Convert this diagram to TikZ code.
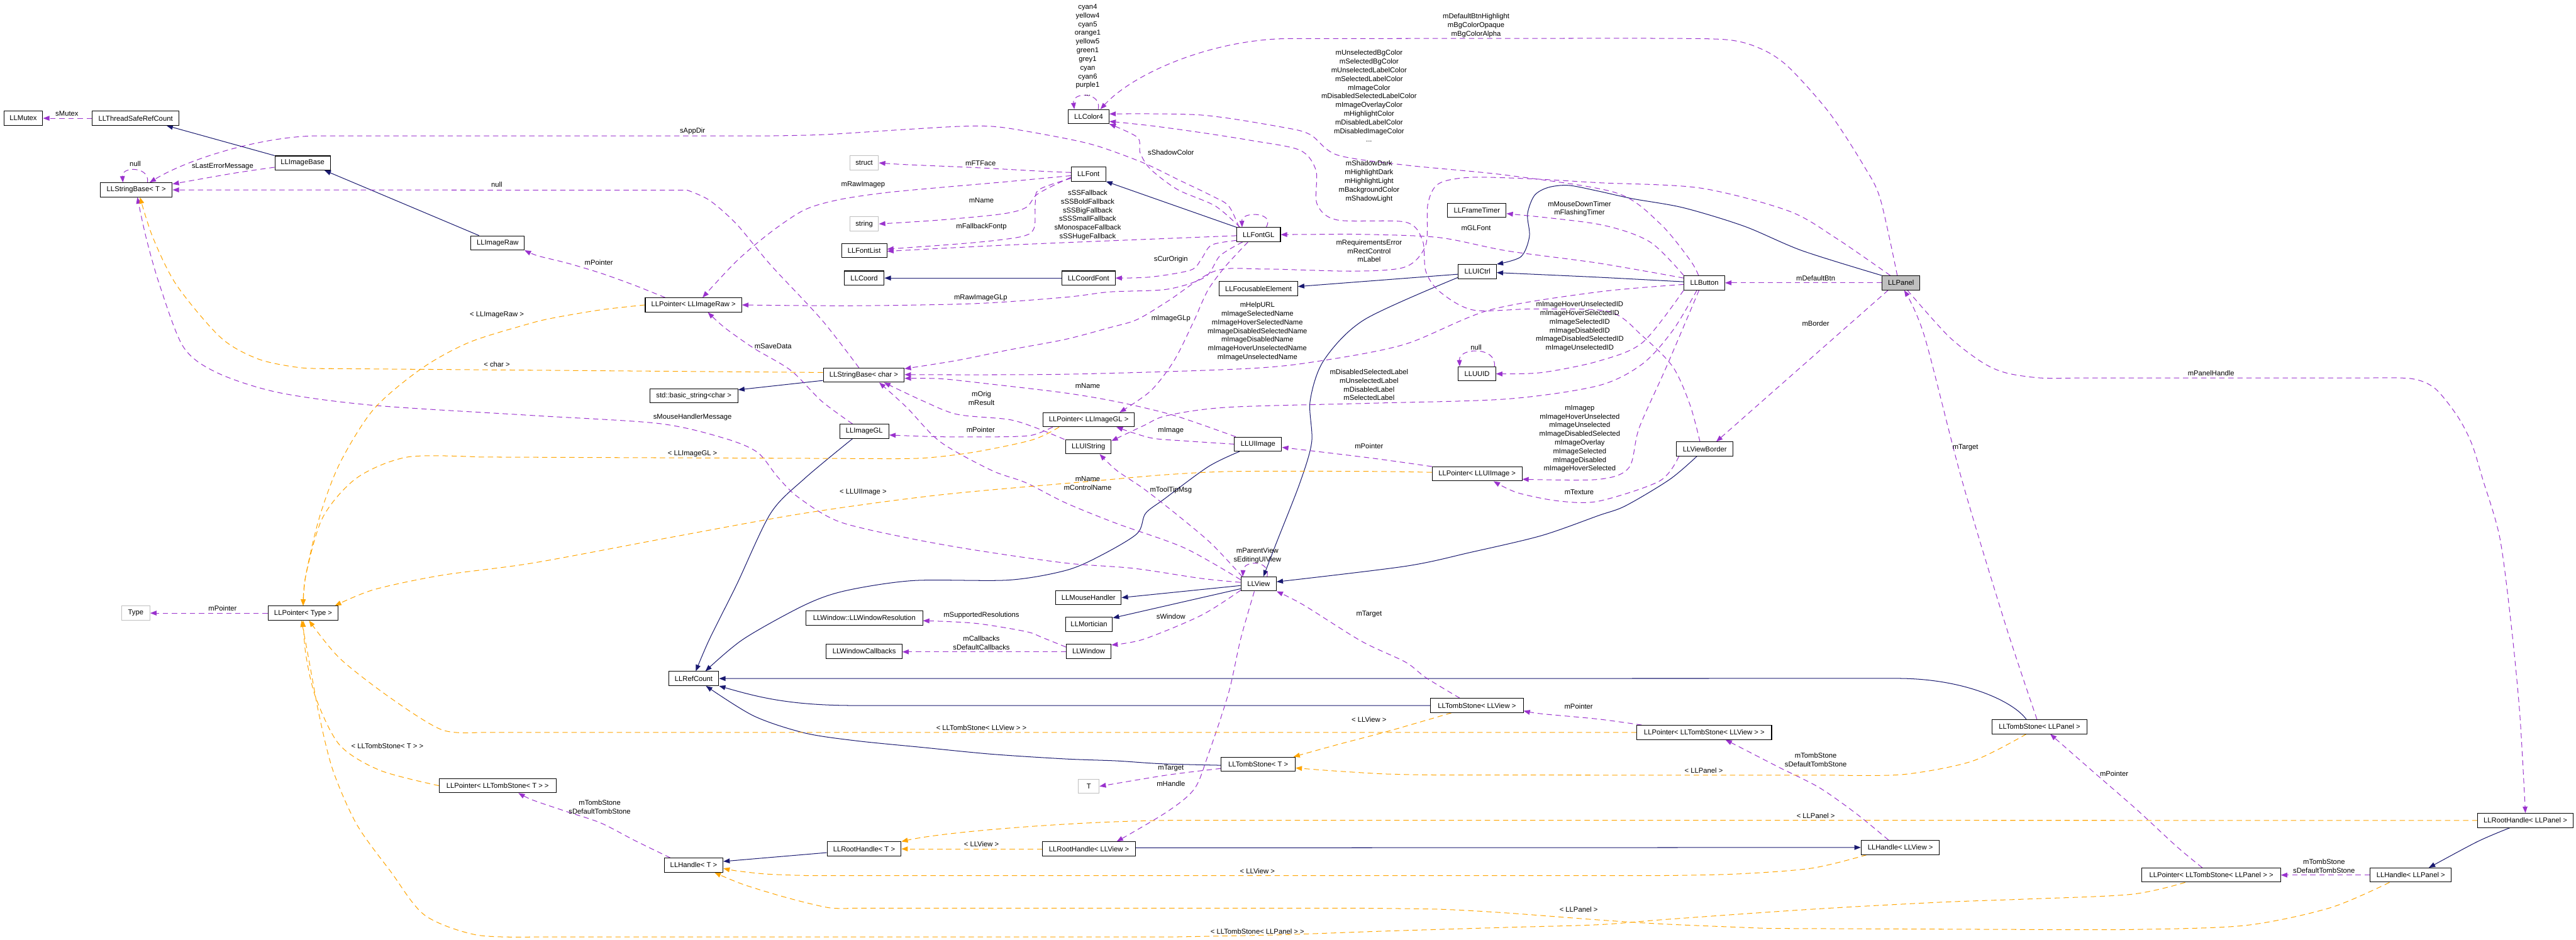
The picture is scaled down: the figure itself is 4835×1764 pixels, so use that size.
\documentclass[tikz,border=0pt]{standalone}
\usepackage{fontspec}
\setmainfont{Liberation Sans}
\usetikzlibrary{arrows.meta,calc,backgrounds}
\definecolor{navy}{HTML}{191970}
\definecolor{purp}{HTML}{9A32CD}
\definecolor{orng}{HTML}{FFA500}
\definecolor{gbord}{HTML}{BFBFBF}
\definecolor{pfill}{HTML}{BFBFBF}
\newcommand{\dfont}{\fontsize{13.3}{16.3}\selectfont}
\begin{document}
\begin{tikzpicture}[x=1pt,y=-1pt,
  cls/.style={draw=black, fill=white, line width=1.2pt, minimum height=26.5pt, inner sep=0pt, font=\dfont},
  gcls/.style={cls, draw=gbord},
  lab/.style={font=\dfont, align=center, inner sep=0pt},
  arr/.style={-{Triangle[length=12pt,width=9pt]}},
  inh/.style={draw=navy, line width=1.2pt, arr},
  usage/.style={draw=purp, line width=1.2pt, dash pattern=on 10pt off 7pt, arr},
  tmpl/.style={draw=orng, line width=1.2pt, dash pattern=on 10pt off 7pt, arr},
  sm/.style={smooth, tension=0.5}]
\useasboundingbox (0,0) rectangle (4835,1764);

% ---------------- nodes ----------------
\node[cls, minimum width=73pt] (mutex) at (43.7,222) {LLMutex};
\node[cls, minimum width=163pt] (tsrc) at (254.5,222) {LLThreadSafeRefCount};
\node[cls, minimum width=104pt] (imgbase) at (568,306) {LLImageBase};
\node[cls, minimum width=135pt] (sbT) at (255.8,356.5) {LLStringBase< T >};
\node[cls, minimum width=100pt] (imgraw) at (934,456) {LLImageRaw};
\node[cls, minimum width=181pt] (pImgRaw) at (1301.6,572.5) {LLPointer< LLImageRaw >};
\node[cls, minimum width=165pt] (stdstr) at (1302.3,742.8) {std::basic\_string<char >};
\node[cls, minimum width=152pt] (sbChar) at (1621.2,704.3) {LLStringBase< char >};
\node[cls, minimum width=92.5pt] (imggl) at (1622.2,809.7) {LLImageGL};
\node[gcls, minimum width=54pt] (structn) at (1622,305.8) {struct};
\node[gcls, minimum width=54pt] (stringn) at (1622,420.4) {string};
\node[cls, minimum width=85pt] (fontlist) at (1622,470.7) {LLFontList};
\node[cls, minimum width=75pt] (coord) at (1622,522) {LLCoord};
\node[cls, minimum width=219pt] (winres) at (1622.2,1160.3) {LLWindow::LLWindowResolution};
\node[cls, minimum width=142pt] (wincb) at (1622,1222.8) {LLWindowCallbacks};
\node[cls, minimum width=139pt] (rhT) at (1621.8,1593.7) {LLRootHandle< T >};
\node[cls, minimum width=94pt] (refcount) at (1302,1273.9) {LLRefCount};
\node[cls, minimum width=110pt] (hT) at (1302,1624.2) {LLHandle< T >};
\node[cls, minimum width=219pt] (pTST) at (934,1475) {LLPointer< LLTombStone< T > >};
\node[gcls, minimum width=53pt] (type) at (254.8,1151) {Type};
\node[cls, minimum width=132pt] (pType) at (569,1151) {LLPointer< Type >};
\node[cls, minimum width=76.5pt] (color4) at (2043.4,218.9) {LLColor4};
\node[cls, minimum width=64.5pt] (font) at (2043,326.8) {LLFont};
\node[cls, minimum width=100pt] (coordfont) at (2043,522) {LLCoordFont};
\node[cls, minimum width=172pt] (pImgGL) at (2043.4,788) {LLPointer< LLImageGL >};
\node[cls, minimum width=85pt] (uistring) at (2043,838.8) {LLUIString};
\node[cls, minimum width=123pt] (mouse) at (2043,1122) {LLMouseHandler};
\node[cls, minimum width=88pt] (mort) at (2044,1172) {LLMortician};
\node[cls, minimum width=84pt] (window) at (2043.4,1222.8) {LLWindow};
\node[gcls, minimum width=39pt] (tn) at (2043.6,1476.2) {T};
\node[cls, minimum width=175pt] (rhView) at (2044,1593.7) {LLRootHandle< LLView >};
\node[cls, minimum width=82pt] (fontgl) at (2362.3,440.5) {LLFontGL};
\node[cls, minimum width=147pt] (focus) at (2362,541.9) {LLFocusableElement};
\node[cls, minimum width=88.6pt] (uiimage) at (2361.3,833.8) {LLUIImage};
\node[cls, minimum width=66.3pt] (view) at (2362.3,1096.3) {LLView};
\node[cls, minimum width=139pt] (tsT) at (2361.6,1434.7) {LLTombStone< T >};
\node[cls, minimum width=110pt] (frametimer) at (2772,395) {LLFrameTimer};
\node[cls, minimum width=71.4pt] (uictrl) at (2773,509.8) {LLUICtrl};
\node[cls, minimum width=70pt] (uuid) at (2772.3,701.8) {LLUUID};
\node[cls, minimum width=168.4pt] (pUIImage) at (2772.4,889.7) {LLPointer< LLUIImage >};
\node[cls, minimum width=174pt] (tsView) at (2772,1324.5) {LLTombStone< LLView >};
\node[cls, minimum width=76.5pt] (button) at (3199,531) {LLButton};
\node[cls, minimum width=106pt] (vborder) at (3199.7,843) {LLViewBorder};
\node[cls, minimum width=253pt] (pTSView) at (3198.7,1375) {LLPointer< LLTombStone< LLView > >};
\node[cls, minimum width=147pt] (hView) at (3566.7,1591) {LLHandle< LLView >};
\node[cls, minimum width=71pt, fill=pfill] (panel) at (3568,531) {LLPanel};
\node[cls, minimum width=178pt] (tsPanel) at (3828.2,1364.3) {LLTombStone< LLPanel >};
\node[cls, minimum width=260pt] (pTSPanel) at (4150.4,1642.8) {LLPointer< LLTombStone< LLPanel > >};
\node[cls, minimum width=152pt] (hPanel) at (4524.8,1642.8) {LLHandle< LLPanel >};
\node[cls, minimum width=179pt] (rhPanel) at (4740,1540.2) {LLRootHandle< LLPanel >};

% ---------------- labels ----------------
\node[lab] (l1) at (125.6,213) {sMutex};
\node[lab] (l2) at (253.8,308) {null};
\node[lab] (l3) at (417.8,312.5) {sLastErrorMessage};
\node[lab] (l4) at (932.5,347) {null};
\node[lab] (l5) at (1299.8,246.8) {sAppDir};
\node[lab] (l6) at (1840.6,306.2) {mFTFace};
\node[lab] (l7) at (1620,347) {mRawImagep};
\node[lab] (l8) at (1842,375.8) {mName};
\node[lab] (l9) at (1842,426) {mFallbackFontp};
\node[lab] (l10) at (2041.5,403.8) {sSSFallback\\sSSBoldFallback\\sSSBigFallback\\sSSSmallFallback\\sMonospaceFallback\\sSSHugeFallback};
\node[lab] (l11) at (2197.7,486.8) {sCurOrigin};
\node[lab] (l12) at (1840.6,558.7) {mRawImageGLp};
\node[lab] (l13) at (2197.7,598) {mImageGLp};
\node[lab] (l14) at (2197.7,286.3) {sShadowColor};
\node[lab] (l15) at (2041.5,94.1) {cyan4\\yellow4\\cyan5\\orange1\\yellow5\\green1\\grey1\\cyan\\cyan6\\purple1\\...};
\node[lab] (l16) at (2770.5,47.8) {mDefaultBtnHighlight\\mBgColorOpaque\\mBgColorAlpha};
\node[lab] (l17) at (2569.6,180.3) {mUnselectedBgColor\\mSelectedBgColor\\mUnselectedLabelColor\\mSelectedLabelColor\\mImageColor\\mDisabledSelectedLabelColor\\mImageOverlayColor\\mHighlightColor\\mDisabledLabelColor\\mDisabledImageColor\\...};
\node[lab] (l18) at (2569.6,340.6) {mShadowDark\\mHighlightDark\\mHighlightLight\\mBackgroundColor\\mShadowLight};
\node[lab] (l19) at (2964.6,392) {mMouseDownTimer\\mFlashingTimer};
\node[lab] (l20) at (2360,622.4) {mHelpURL\\mImageSelectedName\\mImageHoverSelectedName\\mImageDisabledSelectedName\\mImageDisabledName\\mImageHoverUnselectedName\\mImageUnselectedName};
\node[lab] (l21) at (2965,613) {mImageHoverUnselectedID\\mImageHoverSelectedID\\mImageSelectedID\\mImageDisabledID\\mImageDisabledSelectedID\\mImageUnselectedID};
\node[lab] (l22) at (2770.5,652) {null};
\node[lab] (l23) at (2569.6,722.6) {mDisabledSelectedLabel\\mUnselectedLabel\\mDisabledLabel\\mSelectedLabel};
\node[lab] (l24) at (2965,823.8) {mImagep\\mImageHoverUnselected\\mImageUnselected\\mImageDisabledSelected\\mImageOverlay\\mImageSelected\\mImageDisabled\\mImageHoverSelected};
\node[lab] (l25) at (3408,522.3) {mDefaultBtn};
\node[lab] (l26) at (3408,607.3) {mBorder};
\node[lab] (l27) at (4150,700) {mPanelHandle};
\node[lab] (l28) at (3689,839.8) {mTarget};
\node[lab] (l29) at (2964,923.3) {mTexture};
\node[lab] (l30) at (2569.6,838) {mPointer};
\node[lab] (l31) at (2197.7,807.8) {mImage};
\node[lab] (l32) at (2041.5,724.8) {mName};
\node[lab] (l33) at (1840.6,806.7) {mPointer};
\node[lab] (l34) at (1451,650.5) {mSaveData};
\node[lab] (l35) at (1842,748) {mOrig\\mResult};
\node[lab] (l36) at (2041.5,907.7) {mName\\mControlName};
\node[lab] (l37) at (1299.8,783.7) {sMouseHandlerMessage};
\node[lab] (l38) at (2197.7,920) {mToolTipMsg};
\node[lab] (l39) at (2360,1042.7) {mParentView\\sEditingUIView};
\node[lab] (l40) at (2197.7,1157) {sWindow};
\node[lab] (l41) at (2569.6,1153) {mTarget};
\node[lab] (l42) at (2197.7,1471.6) {mHandle};
\node[lab] (l43) at (2197.7,1442.8) {mTarget};
\node[lab] (l44) at (1842,1155.7) {mSupportedResolutions};
\node[lab] (l45) at (1842,1207) {mCallbacks\\sDefaultCallbacks};
\node[lab] (l46) at (1124,492.5) {mPointer};
\node[lab] (l47) at (417.8,1142.4) {mPointer};
\node[lab] (l48) at (3408,1426.3) {mTombStone\\sDefaultTombStone};
\node[lab] (l49) at (1125.6,1514.7) {mTombStone\\sDefaultTombStone};
\node[lab] (l50) at (4362,1626.3) {mTombStone\\sDefaultTombStone};
\node[lab] (l51) at (2963,1326.6) {mPointer};
\node[lab] (l52) at (3968,1452.7) {mPointer};
\node[lab] (l53) at (932.5,590.6) {< LLImageRaw >};
\node[lab] (l54) at (932.5,684) {< char >};
\node[lab] (l55) at (1299.8,851.8) {< LLImageGL >};
\node[lab] (l56) at (1620,924.5) {< LLUIImage >};
\node[lab] (l57) at (1842,1366.5) {< LLTombStone< LLView > >};
\node[lab] (l58) at (727,1400) {< LLTombStone< T > >};
\node[lab] (l59) at (2360,1748.5) {< LLTombStone< LLPanel > >};
\node[lab] (l60) at (2963,1707) {< LLPanel >};
\node[lab] (l61) at (2360,1636) {< LLView >};
\node[lab] (l62) at (1842,1585) {< LLView >};
\node[lab] (l63) at (3408,1532) {< LLPanel >};
\node[lab] (l64) at (3197.7,1446.6) {< LLPanel >};
\node[lab] (l65) at (2569.6,1351) {< LLView >};
\node[lab] (l66) at (2569.6,471) {mRequirementsError\\mRectControl\\mLabel};
\node[lab] (l67) at (2770.5,427.5) {mGLFont};

% ---------------- edges ----------------
\begin{scope}[on background layer]
\fill[white] (0,0) rectangle (4835,1764);

% inheritance
\draw[inh] (imgbase.north west) -- ($(tsrc.south east)+(-24,0)$);
\draw[inh] ($(imgraw.north)+(-35,0)$) -- ($(imgbase.south)+(41,0)$);
\draw[inh] ($(sbChar.west)+(0,10)$) -- ($(stdstr.east)+(0,-11)$);
\draw[inh] (fontgl.north west) -- (font.south east);
\draw[inh] (coordfont.west) -- (coord.east);
\draw[inh] ($(uictrl.west)+(0,5)$) -- ($(focus.east)+(0,-4)$);
\draw[inh] plot[sm] coordinates {($(uictrl.west)+(0,11)$) (2561,600) (2484.7,676.5) (2459,753) (2462,829.5) (2440,906) (2395,1021) ($(view.north)+(9,0)$)};
\draw[inh] plot[sm] coordinates {($(button.west)+(0,-2)$) (3000,520.5) ($(uictrl.east)+(0,2)$)};
\draw[inh] plot[sm] coordinates {(panel.north west) (3382.7,470.7) (3274,424.8) (3159.5,390) (3064,373) (3000,358.8) (2944,348) (2905.7,352) (2880,367) (2867,402) (2870.6,444) (2854.6,482) (uictrl.north east)};
\draw[inh] plot[sm] coordinates {($(vborder.south)+(-15,0)$) (3134,900) (3051,949.6) (3000,968) (2893,1005.6) (2760,1037) (2638,1063) ($(view.east)+(0,-4)$)};
\draw[inh] ($(view.west)+(0,3)$) -- (mouse.east);
\draw[inh] ($(view.west)+(0,9)$) -- ($(mort.north east)+(0,2)$);
\draw[inh] plot[sm] coordinates {($(imggl.south)+(-22,0)$) (1510,898.5) (1446.5,963.5) (1382.7,1097.5) (1331.6,1200) ($(refcount.north)+(4,0)$)};
\draw[inh] plot[sm] coordinates {($(uiimage.south west)+(10,0)$) (2268,876) (2185,937) (2150,964) (2134,1002) (2064,1044) (2000,1071) (1893,1089) (1714,1090) (1587,1109) (1510,1136) (1395,1200) ($(refcount.north)+(22,0)$)};
\draw[inh] ($(tsPanel.north)+(-25,0)$) .. controls (3780,1318) and (3690,1273.6) .. (3560,1273.6) -- (refcount.east);
\draw[inh] (tsView.west) -- (1606,1324.5) .. controls (1480,1324.5) and (1420,1308) .. (refcount.south east);
\draw[inh] plot[sm] coordinates {($(tsT.west)+(0,2)$) (2178.6,1433.8) (2095.7,1428.4) (2000,1424.8) (1861,1415.8) (1730,1403) (1606,1390.6) (1510,1376) (1414.6,1344) ($(refcount.south)+(23,0)$)};
\draw[inh] ($(rhT.west)+(0,7)$) -- ($(hT.east)+(0,-7)$);
\draw[inh] ($(rhView.east)+(0,-2)$) -- (hView.west);
\draw[inh] plot[sm] coordinates {($(rhPanel.south)+(-29,0)$) (4650,1580) ($(hPanel.north)+(34,0)$)};

% usage
\draw[usage] (tsrc.west) -- (mutex.east);
\draw[usage] ($(sbT.north)+(21,0)$) .. controls (282,312) and (228,312) .. ($(sbT.north)+(-25,0)$);
\draw[usage] plot[sm] coordinates {($(imgbase.west)+(0,8)$) (440,325) ($(sbT.east)+(0,-11)$)};
\draw[usage] plot[sm] coordinates {($(sbChar.north)+(-9,0)$) (1542,600) (1446.5,497.5) (1382.7,421) (1331.6,376) (1290,357)} -- (sbT.east);
\draw[usage] plot[sm] coordinates {($(fontgl.north west)+(5,0)$) (2306,386.5) (2274,367.4) (2210.5,336.8) (2146.7,306) (2064,275.5) (2000,260) (1880,239) (1810,237) (1700,243) (1548.5,252.6) (1450,255)} -- (600,255) .. controls (490,255) and (350,300) .. ($(sbT.north)+(25,0)$);
\draw[usage] plot[sm] coordinates {($(font.west)+(0,-3)$) (1956.7,321.5) (1829,314.6) (1700,309) (structn.east)};
\draw[usage] plot[sm] coordinates {($(font.west)+(0,3)$) (1880,342) (1765,352) (1660,362) (1574,375) (1510,394) (1446.5,436) (1382.7,490) ($(pImgRaw.north)+(17,0)$)};
\draw[usage] plot[sm] coordinates {($(font.west)+(0,6)$) (1969.5,352) (1944,367) (1925,390) (1880,401.8) (1765,413) (stringn.east)};
\draw[usage] plot[sm] coordinates {($(font.west)+(0,8)$) (1950,356) (1943,383) (1941,428) (1918,444) (1829,455.4) ($(fontlist.east)+(0,-3)$)};
\draw[usage] plot[sm] coordinates {($(fontgl.west)+(0,2)$) (2000,455.4) (1850,462) ($(fontlist.east)+(0,1)$)};
\draw[usage] plot[sm] coordinates {($(fontgl.south west)+(0,-3)$) (2274,460) (2255,486) (2235,507) (2160,520) (coordfont.east)};
\draw[usage] plot[sm] coordinates {($(fontgl.south)+(-30,0)$) (2290,480) (2262,520) (2191,543) (2083,548) (2000,558) (1829,570) (1600,574) (pImgRaw.east)};
\draw[usage] plot[sm] coordinates {($(fontgl.south)+(-20,0)$) (2300,500) (2270,540) (2255,570) (2242,600) (2204,676.5) (2159.5,734) ($(pImgGL.north)+(58,0)$)};
\draw[usage] plot[sm] coordinates {($(fontgl.north)+(-35,0)$) (2280.6,386.5) (2210.5,356) (2159.5,317.6) (2140,287) (2135,258) (color4.south east)};
\draw[usage] ($(fontgl.north)+(14,0)$) .. controls (2395,398) and (2330,396) .. ($(fontgl.north)+(-31,0)$);
\draw[usage] ($(color4.north)+(18,0)$) .. controls (2068,172) and (2012,172) .. ($(color4.north)+(-27,0)$);
\draw[usage] plot[sm] coordinates {($(panel.north)+(-7,0)$) (3529,373) (3497.5,310) (3433.7,212) (3357,126) (3306,92) (3242,74.6) (3100,72) (2950,72)} -- (2420,72.5) .. controls (2280,73) and (2130,135) .. ($(color4.north)+(22,0)$);
\draw[usage] plot[sm] coordinates {($(button.north)+(-11,0)$) (3172,488) (3115,419) (3032,361.6) (2829,329) (2638,310) (2510,291) (2459,252.6) (2408,239) (2255,216) ($(color4.east)+(0,-5)$)};
\draw[usage] plot[sm] coordinates {($(vborder.north)+(-9,0)$) (3172,760) (3140,689) (3083,631) (3020,585) (2880,580) (2765,582) (2701.6,547) (2676,509) (2670,451.6) (2638,417) (2510,413) (2472,383) (2470,320) (2440,282) (2350,264) (2255,249) (2160,236) ($(color4.east)+(0,9)$)};
\draw[usage] plot[sm] coordinates {(button.north west) (3095.7,453.5) (3000,421) ($(frametimer.east)+(0,6)$)};
\draw[usage] plot[sm] coordinates {($(button.west)+(0,-9)$) (3000,494) (2829,471) (2701.6,446) (2560,440) (2470,440) (fontgl.east)};
\draw[usage] plot[sm] coordinates {($(button.west)+(0,3)$) (3000,548) (2797,581.7) (2638,646) (2484.7,676.5) (2344.4,691.8) (2000,702.6) ($(sbChar.east)+(0,-1)$)};
\draw[usage] plot[sm] coordinates {(button.south west) (3083,643) (3000,678) (2893,699.5) (uuid.east)};
\draw[usage] ($(uuid.north east)+(-3,0)$) .. controls (2810,650) and (2738,652) .. ($(uuid.north west)+(3,0)$);
\draw[usage] plot[sm] coordinates {($(button.south)+(-14,0)$) (3140,620) (3083,683) (3000,724) (2829,749) (2574,757) (2306,764.5) (2191,780) (2146.7,799) ($(uistring.east)+(0,-11)$)};
\draw[usage] plot[sm] coordinates {($(button.south)+(-10,0)$) (3127.6,689) (3076.5,803.6) (3057.4,878) (3000,900) ($(pUIImage.east)+(0,10)$)};
\draw[usage] (panel.west) -- (button.east);
\draw[usage] ($(panel.south west)+(12,0)$) -- ($(vborder.north east)+(-32,0)$);
\draw[usage] plot[sm] coordinates {($(panel.south)+(12,0)$) (3657,631) (3720,680) (3765,700) (3829,709.5) (3900,709.5)} -- plot[sm] coordinates {(4450,709.5) (4527,711) (4570,729) (4612,780.6) (4639,832.3) (4660,900) (4692,1010) (4713.6,1175.5) (4729.5,1340.8) (rhPanel.north)};
\draw[usage] plot[sm] coordinates {($(tsPanel.north)+(-5,0)$) (3765,1175.5) (3682,900) (3612,631) ($(panel.south)+(6,0)$)};
\draw[usage] plot[sm] coordinates {($(panel.north west)+(16,0)$) (3446,447) (3357,396) (3191,353) (3000,343) (2880,336) (2760,333) (2700,345) (2680,383) (2676,460) (2638,501) (2542,509) (2370,505) (2280,509) (2191,566) (2134,600) (2083,615) (2000,637) (1893,657) (1797,676.5) ($(sbChar.east)+(0,-12)$)};
\draw[usage] plot[sm] coordinates {($(vborder.south west)+(5,0)$) (3115,903) (3000,941) (2925,940.5) (2848,925) ($(pUIImage.south)+(31,0)$)};
\draw[usage] plot[sm] coordinates {(pUIImage.north west) (2574,860) ($(uiimage.east)+(0,6)$)};
\draw[usage] plot[sm] coordinates {(uiimage.west) (2223,827.7) (2159.5,822) ($(pImgGL.south)+(52,0)$)};
\draw[usage] plot[sm] coordinates {($(uiimage.north west)+(3,0)$) (2204,780) (2100,755) (2000,737.8) (1850,720) (1765,711) ($(sbChar.east)+(0,6)$)};
\draw[usage] plot[sm] coordinates {($(pImgGL.south west)+(19,0)$) (1937,817) (1880,820) (1765,820) ($(imggl.east)+(0,7)$)};
\draw[usage] plot[sm] coordinates {($(imggl.north)+(-22,0)$) (1542,753) (1484.7,695.7) (1414.6,653.6) (1360,615) ($(pImgRaw.south)+(27,0)$)};
\draw[usage] plot[sm] coordinates {($(uistring.north west)+(-2,0)$) (1944,803) (1893,787.5) (1797,778) (1733,753) ($(sbChar.south)+(38,0)$)};
\draw[usage] plot[sm] coordinates {($(view.west)+(0,-8)$) (2223,1028.6) (2095.7,982.7) (2000,944) (1925,906) (1861,883) (1765,829.6) (1701.6,764.6) ($(sbChar.south)+(29,0)$)};
\draw[usage] plot[sm] coordinates {($(view.west)+(0,-3)$) (2255,1086) (2127.6,1067) (2000,1057) (1829,1032.5) (1701.6,1009.5) (1574,979) (1497.5,933) (1459,894.7) (1421,848.7) (1357,822) (1236,795) (1000,780) (701.6,761) (523,737) (408,700) (344.4,651.7) (299.8,535.7) (274.3,446.4) ($(sbT.south)+(2,0)$)};
\draw[usage] plot[sm] coordinates {($(view.north west)+(3,0)$) (2274,1021) (2210.5,967.4) (2146.7,917.6) (2095.7,883) ($(uistring.south)+(21,0)$)};
\draw[usage] ($(view.north)+(16,0)$) .. controls (2385,1050) and (2334,1052) .. ($(view.north west)+(4,0)$);
\draw[usage] plot[sm] coordinates {($(view.south west)+(0,-2)$) (2255,1155) (2146.7,1200) ($(window.east)+(0,-12)$)};
\draw[usage] plot[sm] coordinates {($(tsView.north)+(-32,0)$) (2676,1272) (2638,1243) (2555,1203.6) (2446.5,1135.7) (view.south east)};
\draw[usage] plot[sm] coordinates {($(view.south)+(-8,0)$) (2328.5,1200) (2306,1300.7) (2268,1416) (2242,1480.6) (2191,1523.7) ($(rhView.north)+(52,0)$)};
\draw[usage] plot[sm] coordinates {($(tsT.west)+(0,8)$) (2191,1455) (tn.east)};
\draw[usage] plot[sm] coordinates {($(window.west)+(0,-8)$) (1956.7,1197) (1925,1185.5) (1829,1170) ($(winres.east)+(0,5)$)};
\draw[usage] ($(window.west)+(0,1)$) -- ($(wincb.east)+(0,1)$);
\draw[usage] plot[sm] coordinates {($(pImgRaw.north west)+(38,0)$) (1191.3,535.7) (1127.6,512.8) (1063.8,493.7) (1009.6,480.3) (imgraw.south east)};
\draw[usage] (pType.west) -- (type.east);
\draw[usage] plot[sm] coordinates {($(hView.north)+(-22,0)$) (3484.7,1528) (3414.6,1478.6) (3338,1440) (3274,1407) ($(pTSView.south)+(40,0)$)};
\draw[usage] plot[sm] coordinates {($(hT.north)+(-44,0)$) (1191,1577.7) (1127.6,1545) (1063.8,1523.7) (1000,1502) ($(pTST.south)+(39,0)$)};
\draw[usage] (hPanel.west) -- (pTSPanel.east);
\draw[usage] plot[sm] coordinates {($(pTSView.north west)+(10,0)$) (3000,1350) (2893,1340) ($(tsView.east)+(0,10)$)};
\draw[usage] plot[sm] coordinates {($(pTSPanel.north)+(-17,0)$) (4085,1588.8) (4010.6,1520) (3925,1445.5) ($(tsPanel.south)+(20,0)$)};

% template instances
\draw[tmpl] plot[sm] coordinates {(pImgRaw.west) (1127.6,581.7) (1038,597) (988.6,609) (880,643) (791,692) (701.6,768) (637.8,869.7) (599.5,971.4) (574,1080) (pType.north)};
\draw[tmpl] ($(sbChar.west)+(0,-5)$) -- plot[sm] coordinates {(620,692) (561,690) (484.7,674) (414.6,634) (331.7,535.7) (287,446) ($(sbT.south)+(7,0)$)};
\draw[tmpl] plot[sm] coordinates {($(pImgGL.south west)+(31,0)$) (1937.6,825.8) (1829,848.7) (1733.5,860) (1640,861)} -- plot[sm] coordinates {(900,858) (765,858) (670,897) (606,971) (574,1080) (pType.north)};
\draw[tmpl] plot[sm] coordinates {($(pUIImage.west)+(0,-3)$) (2574,885) (2319,885) (2191,891) (2064,902) (1765,929) (1510,963.5) (1255,1009.5) (1000,1057) (829,1080) (701.6,1107) ($(pType.north east)+(-7,0)$)};
\draw[tmpl] (pTSView.west) -- plot[sm] coordinates {(900,1375) (829,1370) (733.5,1310.7) (637.8,1236) ($(pType.south)+(11,0)$)};
\draw[tmpl] plot[sm] coordinates {(pTST.west) (714,1446.5) (637.8,1399) (593,1310.7) (574,1229) (pType.south)};
\draw[tmpl] plot[sm] coordinates {($(pTSPanel.south)+(-49,0)$) (4000,1679) (3800,1688) (3638,1694) (3400,1707) (3128,1726) (3000,1736) (2829,1741) (2600,1748) (2400,1755) (2200,1759)} -- plot[sm] coordinates {(1000,1759) (893,1755) (797,1718) (733.5,1636.5) (669.7,1548) (625,1446.5) (599.5,1344.7) (580,1240) ($(pType.south)+(-3,0)$)};
\draw[tmpl] plot[sm] coordinates {($(hPanel.south)+(-40,0)$) (4372.7,1704.5) (4213,1737.5) (4000,1745) (3800,1745)} -- plot[sm] coordinates {(3319,1743) (3127,1735) (3000,1727) (2829,1714) (2702,1707) (2550,1705)} -- plot[sm] coordinates {(1600,1705) (1555,1704) (1478,1685.6) (1395,1660.4) ($(hT.south)+(39,0)$)};
\draw[tmpl] plot[sm] coordinates {($(hView.south west)+(11,0)$) (3400,1630) (3255,1641) (3100,1644)} -- plot[sm] coordinates {(1520,1644) (1440,1641) (1383,1635) ($(hT.east)+(0,6)$)};
\draw[tmpl] (rhView.west) -- (rhT.east);
\draw[tmpl] (rhPanel.west) -- (2217,1540) .. controls (2050,1540) and (1780,1560) .. (rhT.north east);
\draw[tmpl] plot[sm] coordinates {($(tsPanel.south)+(-25,0)$) (3701.6,1429) (3574,1453.8) (3450,1455.4)} -- plot[sm] coordinates {(2700,1455) (2600,1453) (2500,1447) ($(tsT.east)+(0,7)$)};
\draw[tmpl] plot[sm] coordinates {($(tsView.south)+(-48,0)$) (2606,1372.6) (2510,1398) ($(tsT.north east)+(-4,0)$)};
\end{scope}
\end{tikzpicture}
\end{document}
